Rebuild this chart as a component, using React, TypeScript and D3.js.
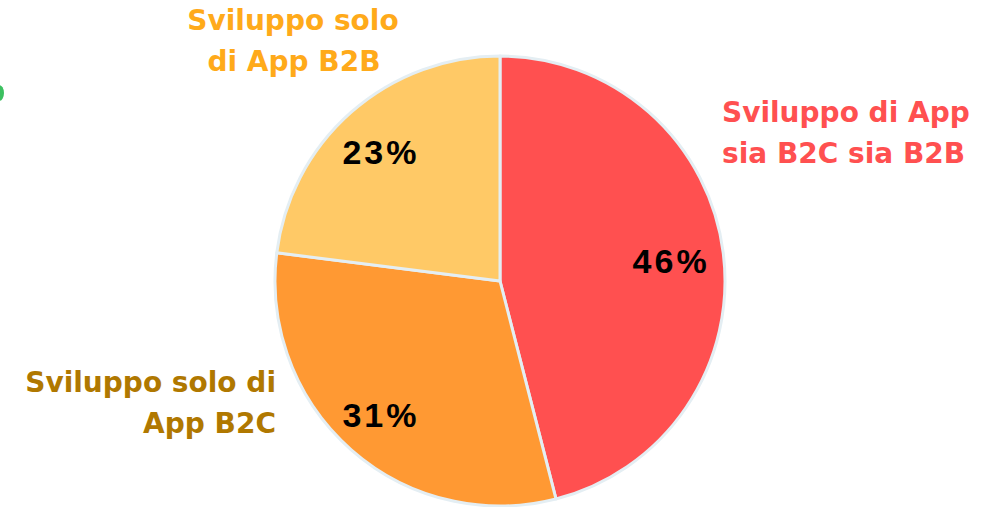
import React from "react";
import * as d3 from "d3";

const categories = ["Sviluppo di App sia B2C sia B2B", "Sviluppo solo di App B2C", "Sviluppo solo di App B2B"];
const values = [46, 31, 23];
const valueLabels = ["46%", "31%", "23%"];
const colors = ["#FF5050", "#FF9933", "#FFC966"];

const W = 999;
const H = 507;
const cx = 500;
const cy = 281;
const R = 225;

export default function App() {
  const pie = d3.pie<number>().sort(null).value((d) => d)(values);
  const arc = d3.arc<d3.PieArcDatum<number>>().innerRadius(0).outerRadius(R);
  const labelArc = d3.arc<d3.PieArcDatum<number>>().innerRadius(R * 0.78).outerRadius(R * 0.78);
  const font = "'DejaVu Sans', Verdana, sans-serif";
  return (
    <svg width={W} height={H} style={{ position: "absolute", left: 0, top: 0, background: "#fff" }}>
      <ellipse cx={-1} cy={93} rx={5} ry={8} fill="#3cc060" />
      <g transform={`translate(${cx},${cy})`}>
        {pie.map((p, i) => (
          <path key={i} d={arc(p) || ""} fill={colors[i]} stroke="#E4EEF3" strokeWidth={3} strokeLinejoin="round" />
        ))}
        {pie.map((p, i) => {
          const [x, y] = labelArc.centroid(p);
          return (
            <text key={"l" + i} x={x - 3} y={y + 2} dy="0.36em" textAnchor="middle"
              fontFamily="'Liberation Sans', Arial, sans-serif" fontWeight="bold" fontSize={34}
              letterSpacing={3} fill="#000">
              {valueLabels[i]}
            </text>
          );
        })}
      </g>
      <g fontFamily={font} fontWeight="bold" fontSize={28}>
        <text fill="#FF5050" textAnchor="start">
          <tspan x={722} y={122}>Sviluppo di App</tspan>
          <tspan x={722} y={163}>sia B2C sia B2B</tspan>
        </text>
        <text fill="#B07800" textAnchor="end">
          <tspan x={276} y={392}>Sviluppo solo di</tspan>
          <tspan x={276} y={433}>App B2C</tspan>
        </text>
        <text fill="#FFAA1A" textAnchor="middle">
          <tspan x={293} y={30}>Sviluppo solo</tspan>
          <tspan x={294} y={71}>di App B2B</tspan>
        </text>
      </g>
    </svg>
  );
}
